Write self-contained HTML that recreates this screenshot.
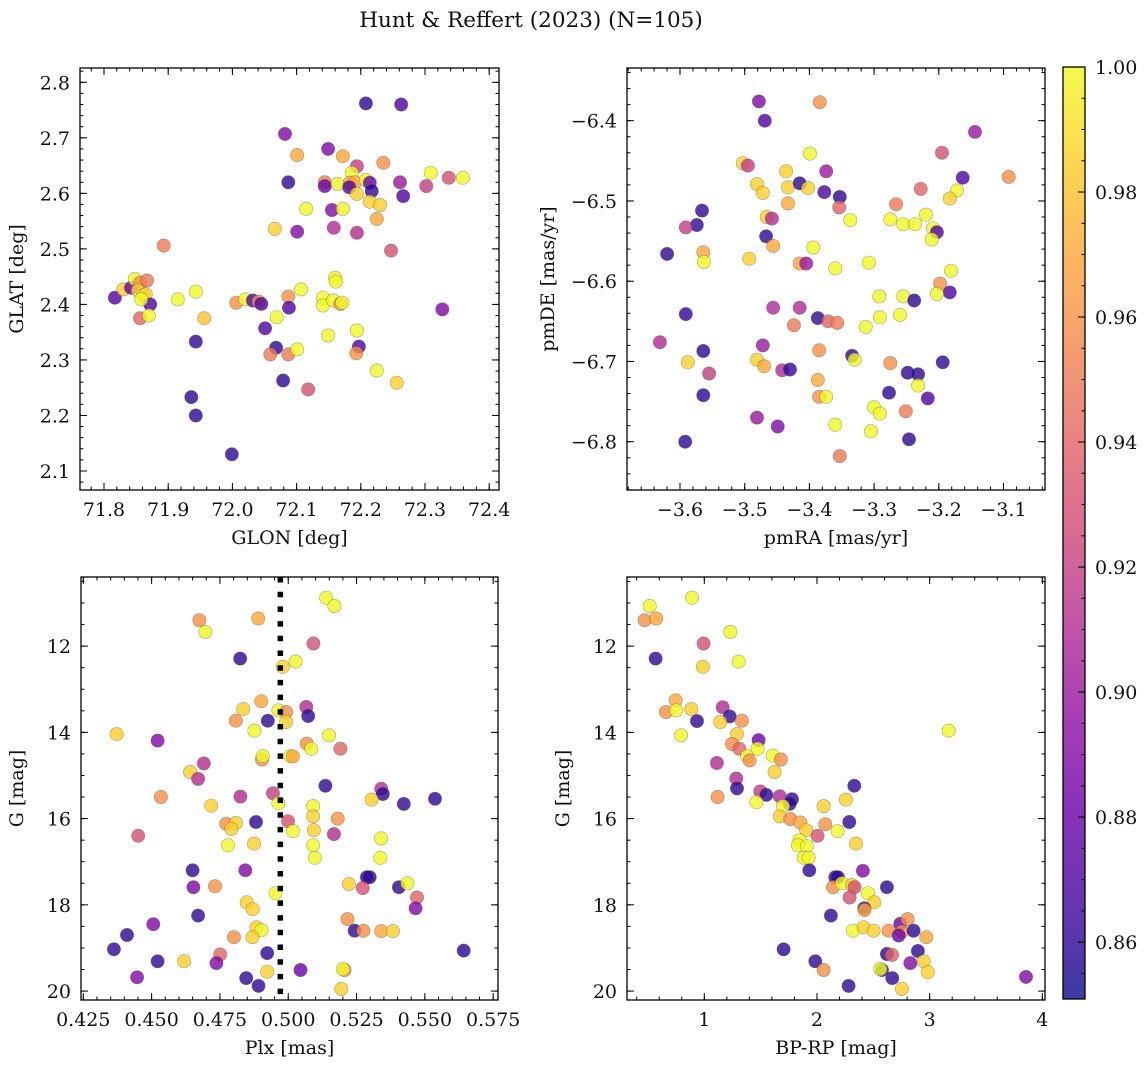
<!DOCTYPE html>
<html><head><meta charset="utf-8">
<style>
html,body{margin:0;padding:0;background:#fff;}
svg{display:block;font-family:"DejaVu Serif","Liberation Serif",serif;}
</style></head>
<body>
<svg id="fig" width="1148" height="1067" viewBox="0 0 1148 1067" xmlns="http://www.w3.org/2000/svg">
<rect width="1148" height="1067" fill="#fff"/>
<text x="531" y="27" font-size="21.5" text-anchor="middle" fill="#111">Hunt &amp; Reffert (2023) (N=105)</text>
<defs>
<linearGradient id="cbgrad" x1="0" y1="1" x2="0" y2="0"></linearGradient>
</defs>
</svg>
<script>
// ---- Panel 1: GLON / GLAT ----
const glon = [72.208,72.263,72.082,72.149,72.101,72.172,72.194,72.235,72.186,72.309,72.337,72.359,72.144,72.144,72.164,72.183,72.191,72.208,72.214,72.261,72.302,72.087,72.182,72.194,72.217,72.266,72.214,72.230,72.115,72.155,72.172,72.225,72.101,72.158,72.194,72.066,72.247,71.893,71.817,71.830,71.842,71.848,71.856,71.867,71.853,71.861,71.865,71.872,71.858,71.856,71.870,71.915,71.943,71.956,71.943,71.936,71.943,71.999,72.006,72.020,72.032,72.041,72.045,72.051,72.068,72.059,72.087,72.079,72.087,72.088,72.069,72.101,72.107,72.118,72.160,72.161,72.141,72.141,72.157,72.168,72.171,72.149,72.194,72.197,72.193,72.225,72.256,72.327];
const glat = [2.762,2.760,2.707,2.680,2.669,2.667,2.649,2.655,2.637,2.637,2.628,2.628,2.620,2.613,2.617,2.619,2.620,2.624,2.619,2.620,2.613,2.620,2.611,2.599,2.604,2.595,2.585,2.579,2.572,2.570,2.572,2.554,2.531,2.538,2.529,2.536,2.497,2.506,2.412,2.427,2.430,2.446,2.439,2.443,2.425,2.416,2.418,2.400,2.409,2.375,2.380,2.409,2.423,2.375,2.333,2.233,2.200,2.130,2.403,2.409,2.407,2.405,2.401,2.357,2.322,2.310,2.310,2.263,2.414,2.394,2.377,2.319,2.427,2.247,2.448,2.441,2.412,2.398,2.407,2.401,2.403,2.344,2.353,2.324,2.312,2.281,2.259,2.391];
const probTL = [0.86,0.87,0.89,0.89,0.97,0.97,0.92,0.96,1.00,1.00,0.93,1.00,0.95,0.88,1.00,0.97,0.97,1.00,0.88,0.90,0.92,0.86,0.87,0.985,0.86,0.87,0.985,0.985,1.00,0.89,1.00,0.97,0.89,0.91,0.91,0.985,0.93,0.95,0.87,0.985,0.88,1.00,0.96,0.95,0.985,1.00,0.985,0.87,1.00,0.94,1.00,1.00,1.00,0.98,0.86,0.86,0.86,0.86,0.96,1.00,0.87,0.96,0.87,0.87,0.86,0.95,0.95,0.86,0.96,0.87,1.00,1.00,1.00,0.93,1.00,1.00,1.00,1.00,1.00,0.96,1.00,1.00,1.00,0.87,0.96,1.00,0.985,0.89];
// ---- Panel 2: pmRA / pmDE ----
const pmra = [-3.478,-3.469,-3.384,-3.144,-3.503,-3.495,-3.195,-3.399,-3.436,-3.374,-3.163,-3.092,-3.481,-3.433,-3.415,-3.402,-3.472,-3.377,-3.353,-3.172,-3.228,-3.183,-3.433,-3.354,-3.266,-3.566,-3.574,-3.466,-3.458,-3.220,-3.337,-3.275,-3.255,-3.237,-3.209,-3.203,-3.211,-3.591,-3.467,-3.456,-3.394,-3.620,-3.564,-3.563,-3.493,-3.415,-3.405,-3.360,-3.308,-3.181,-3.198,-3.183,-3.591,-3.292,-3.255,-3.203,-3.456,-3.415,-3.291,-3.260,-3.238,-3.387,-3.371,-3.424,-3.357,-3.313,-3.334,-3.330,-3.631,-3.564,-3.588,-3.472,-3.481,-3.470,-3.385,-3.275,-3.194,-3.248,-3.232,-3.555,-3.442,-3.430,-3.232,-3.217,-3.277,-3.564,-3.387,-3.385,-3.374,-3.300,-3.291,-3.251,-3.481,-3.360,-3.449,-3.305,-3.592,-3.246,-3.353];
const pmde = [-6.376,-6.400,-6.377,-6.414,-6.453,-6.456,-6.440,-6.441,-6.463,-6.463,-6.471,-6.470,-6.479,-6.483,-6.478,-6.484,-6.490,-6.489,-6.495,-6.487,-6.485,-6.497,-6.503,-6.508,-6.504,-6.512,-6.530,-6.520,-6.522,-6.517,-6.524,-6.523,-6.529,-6.529,-6.534,-6.539,-6.548,-6.533,-6.544,-6.556,-6.558,-6.566,-6.564,-6.576,-6.572,-6.578,-6.578,-6.584,-6.577,-6.587,-6.603,-6.614,-6.641,-6.619,-6.619,-6.616,-6.633,-6.633,-6.645,-6.642,-6.624,-6.646,-6.650,-6.655,-6.652,-6.657,-6.693,-6.698,-6.676,-6.687,-6.701,-6.680,-6.698,-6.706,-6.686,-6.702,-6.701,-6.714,-6.716,-6.715,-6.711,-6.710,-6.730,-6.746,-6.739,-6.742,-6.723,-6.744,-6.744,-6.757,-6.765,-6.762,-6.770,-6.779,-6.781,-6.787,-6.800,-6.797,-6.818];
const probTR = [0.89,0.87,0.96,0.90,0.985,0.92,0.93,1.00,0.985,0.90,0.87,0.96,0.985,0.985,0.86,0.985,0.985,0.87,0.86,1.00,0.94,0.985,0.97,0.94,0.95,0.86,0.86,0.985,0.91,1.00,1.00,1.00,1.00,1.00,1.00,0.87,1.00,0.92,0.86,0.97,1.00,0.86,0.97,1.00,0.985,0.97,0.90,1.00,1.00,1.00,0.96,0.87,0.86,1.00,1.00,1.00,0.91,0.91,1.00,1.00,0.86,0.86,0.94,0.95,0.95,1.00,0.86,1.00,0.91,0.86,0.985,0.90,0.985,0.97,0.96,0.96,0.86,0.86,0.86,0.92,0.91,0.86,1.00,0.87,0.86,0.86,0.97,0.96,1.00,1.00,1.00,0.95,0.90,1.00,0.89,1.00,0.86,0.86,0.95];
// ---- Panel 3: Plx / G ----
const plx = [0.5139,0.5169,0.4675,0.4697,0.4890,0.5092,0.4824,0.5027,0.4980,0.4901,0.4835,0.5066,0.4964,0.4992,0.5073,0.4808,0.4925,0.4992,0.4876,0.4372,0.5149,0.4522,0.5068,0.5084,0.5191,0.4904,0.4907,0.5008,0.5017,0.4691,0.4641,0.4670,0.5136,0.5340,0.5346,0.4534,0.4825,0.4944,0.4964,0.5537,0.5423,0.5305,0.4718,0.5091,0.5091,0.5181,0.4773,0.4809,0.4792,0.4882,0.4999,0.5017,0.5094,0.5167,0.4451,0.5340,0.4780,0.4875,0.5091,0.5097,0.5337,0.4650,0.4843,0.5298,0.5288,0.4653,0.4732,0.5222,0.5273,0.5405,0.5436,0.4953,0.5471,0.5466,0.4848,0.4870,0.4670,0.5217,0.4506,0.4884,0.4902,0.5243,0.5275,0.5340,0.5383,0.4410,0.4801,0.4869,0.4362,0.5642,0.4923,0.4751,0.4522,0.4619,0.4737,0.5045,0.5206,0.5200,0.4923,0.4447,0.4846,0.4891,0.5194];
const gBL = [10.88,11.07,11.40,11.67,11.36,11.94,12.29,12.36,12.48,13.28,13.46,13.41,13.49,13.53,13.62,13.73,13.73,13.76,13.96,14.04,14.07,14.19,14.26,14.38,14.38,14.63,14.55,14.55,14.56,14.72,14.92,15.08,15.24,15.31,15.43,15.50,15.49,15.41,15.64,15.54,15.66,15.56,15.70,15.71,15.95,16.00,16.12,16.10,16.24,16.08,16.06,16.29,16.27,16.36,16.40,16.46,16.62,16.58,16.62,16.91,16.91,17.20,17.20,17.36,17.36,17.59,17.57,17.52,17.61,17.59,17.50,17.73,17.83,18.08,17.94,18.10,18.25,18.33,18.45,18.52,18.59,18.60,18.60,18.61,18.61,18.70,18.75,18.75,19.03,19.06,19.12,19.15,19.31,19.31,19.35,19.51,19.51,19.49,19.55,19.68,19.70,19.88,19.95];
const probBL = [1.00,1.00,0.96,1.00,0.97,0.93,0.86,1.00,0.985,0.97,0.985,0.91,1.00,0.96,0.86,0.96,0.86,0.985,1.00,0.985,1.00,0.89,0.96,1.00,0.94,0.96,1.00,1.00,0.97,0.91,0.985,0.91,0.86,0.91,0.86,0.96,0.91,0.92,1.00,0.86,0.86,0.985,0.985,1.00,0.985,0.96,0.96,0.985,0.985,0.86,0.93,1.00,0.985,0.91,0.93,1.00,1.00,0.985,1.00,1.00,1.00,0.86,0.89,0.86,0.86,0.89,0.96,0.985,0.93,0.86,1.00,1.00,0.94,0.89,0.985,0.985,0.86,0.96,0.89,0.985,1.00,0.86,0.96,0.97,0.985,0.86,0.96,0.985,0.86,0.86,0.86,0.94,0.86,0.985,0.89,0.88,0.96,1.00,0.985,0.89,0.86,0.86,0.985];
const plxLine = [0.4971];
// ---- Panel 4: BP-RP / G ----
const bprp = [0.515,0.891,0.470,0.574,1.231,0.994,0.568,0.988,1.305,0.746,0.660,0.751,0.885,1.163,0.935,1.225,1.334,1.142,0.793,3.169,1.482,1.290,1.246,1.311,1.473,1.379,1.402,1.607,1.680,1.624,1.112,1.284,1.290,1.118,1.497,1.550,1.669,1.778,1.757,1.462,1.698,2.331,2.059,2.257,1.669,1.763,1.852,1.905,2.006,2.074,2.183,2.287,2.346,1.846,1.831,1.911,1.882,1.926,1.932,2.408,2.163,2.186,2.142,2.222,2.311,2.334,2.290,2.621,2.453,2.509,2.420,2.423,2.124,2.320,2.414,2.503,2.636,2.740,2.805,2.754,2.725,2.858,2.970,1.704,2.621,2.666,2.896,1.985,2.059,2.828,2.947,2.577,2.562,2.985,2.669,2.281,2.754,3.855];
const gBR = [11.07,10.88,11.40,11.36,11.67,11.94,12.29,12.48,12.36,13.26,13.53,13.49,13.46,13.42,13.74,13.63,13.73,13.76,14.07,13.96,14.18,14.04,14.27,14.38,14.38,14.55,14.65,14.54,14.63,14.92,14.71,15.07,15.30,15.50,15.37,15.45,15.48,15.55,15.66,15.62,15.71,15.24,15.71,15.56,15.95,16.01,16.09,16.27,16.40,16.13,16.29,16.08,16.58,16.50,16.62,16.64,16.91,16.91,17.20,17.21,17.36,17.36,17.59,17.50,17.54,17.59,17.83,17.59,17.73,17.94,18.08,18.12,18.25,18.60,18.52,18.60,18.60,18.44,18.33,18.62,18.71,18.60,18.75,19.03,19.14,19.16,19.07,19.31,19.51,19.35,19.31,19.51,19.49,19.56,19.70,19.88,19.95,19.67];
const probBR = [1.00,1.00,0.96,0.97,1.00,0.93,0.86,0.985,1.00,0.97,0.96,1.00,0.985,0.91,0.86,0.86,0.96,0.985,1.00,1.00,0.88,0.985,0.96,0.94,1.00,1.00,0.96,1.00,0.96,0.985,0.91,0.91,0.86,0.96,0.92,0.86,0.91,0.86,0.86,1.00,1.00,0.86,0.985,0.985,0.985,0.96,0.97,0.985,0.93,0.96,1.00,0.86,0.985,1.00,1.00,1.00,1.00,1.00,0.86,0.89,0.86,0.86,0.96,1.00,0.985,0.93,0.93,0.86,1.00,0.985,0.86,0.97,0.86,1.00,0.985,0.985,0.96,0.88,0.96,0.96,0.88,0.86,0.97,0.86,0.86,0.94,0.86,0.86,0.96,0.89,0.985,0.86,1.00,0.985,0.86,0.86,0.985,0.89];
// ---- Colorbar ticks ----
const cbTicks = [0.86,0.88,0.90,0.92,0.94,0.96,0.98,1.00];
const cbLabels = ["0.86","0.88","0.90","0.92","0.94","0.96","0.98","1.00"];

const VMIN = 0.8509, VMAX = 1.0;
const FS = 19;
const NS = "http://www.w3.org/2000/svg";
const svg = document.getElementById('fig');
const plasma = [[13,8,135],[65,4,157],[106,0,168],[143,13,164],[177,42,144],[204,71,120],[225,100,98],[242,132,75],[252,166,54],[252,206,37],[240,249,33]];
function cmap(v){
  let t = Math.max(0, Math.min(1, (v - VMIN) / (VMAX - VMIN))) * 10;
  const i = Math.min(9, Math.floor(t)), f = t - i;
  const a = plasma[i], b = plasma[i + 1];
  return 'rgb(' + [0,1,2].map(k => Math.round(a[k] + (b[k] - a[k]) * f)).join(',') + ')';
}
function mk(tag, attrs, parent){
  const e = document.createElementNS(NS, tag);
  for (const k in attrs) e.setAttribute(k, attrs[k]);
  (parent || svg).appendChild(e);
  return e;
}
function range(a, b, s){ const r = []; for (let v = a; v <= b + s * 1e-6; v += s) r.push(+v.toFixed(6)); return r; }

function panel(cfg){
  const g = mk('g', {});
  
  
  const sx = v => cfg.x0 + (v - cfg.xmin) / (cfg.xmax - cfg.xmin) * (cfg.x1 - cfg.x0);
  const sy = cfg.yinv
    ? v => cfg.y0 + (v - cfg.ymin) / (cfg.ymax - cfg.ymin) * (cfg.y1 - cfg.y0)
    : v => cfg.y1 - (v - cfg.ymin) / (cfg.ymax - cfg.ymin) * (cfg.y1 - cfg.y0);
  const clip = 'clip-' + cfg.name;
  const cp = mk('clipPath', {id: clip}, g);
  mk('rect', {x: cfg.x0, y: cfg.y0, width: cfg.x1 - cfg.x0, height: cfg.y1 - cfg.y0}, cp);
  const pts = mk('g', {'clip-path': 'url(#' + clip + ')'}, g);
  
  
  for (let i = 0; i < cfg.xs.length; i++){
    const c = mk('circle', {cx: sx(cfg.xs[i]).toFixed(1), cy: sy(cfg.ys[i]).toFixed(1), r: 6.7, fill: cmap(cfg.ps[i]), 'fill-opacity': 0.8, stroke: '#555', 'stroke-opacity': 0.5, 'stroke-width': 0.6}, pts);
    
    
  }
  if (cfg.vline){
    for (const v of cfg.vline){
      const l = mk('line', {x1: sx(v), x2: sx(v), y1: cfg.y0, y2: cfg.y1, stroke: '#000', 'stroke-width': 5.5, 'stroke-dasharray': '5.5 9.2'}, g);
      
      
    }
  }
  const tk = mk('g', {stroke: '#000', 'stroke-width': 1}, g);
  
  
  const inX = v => v >= Math.min(cfg.xmin, cfg.xmax) - 1e-9 && v <= Math.max(cfg.xmin, cfg.xmax) + 1e-9;
  const inY = v => v >= Math.min(cfg.ymin, cfg.ymax) - 1e-9 && v <= Math.max(cfg.ymin, cfg.ymax) + 1e-9;
  cfg.xminor.filter(inX).forEach(v => { const x = sx(v);
    mk('line', {x1: x, x2: x, y1: cfg.y1, y2: cfg.y1 - 3.5}, tk); mk('line', {x1: x, x2: x, y1: cfg.y0, y2: cfg.y0 + 3.5}, tk); });
  cfg.yminor.filter(inY).forEach(v => { const y = sy(v);
    mk('line', {x1: cfg.x0, x2: cfg.x0 + 3.5, y1: y, y2: y}, tk); mk('line', {x1: cfg.x1, x2: cfg.x1 - 3.5, y1: y, y2: y}, tk); });
  cfg.xmajor.filter(inX).forEach(v => { const x = sx(v);
    mk('line', {x1: x, x2: x, y1: cfg.y1, y2: cfg.y1 - 7}, tk); mk('line', {x1: x, x2: x, y1: cfg.y0, y2: cfg.y0 + 7}, tk);
    const t = mk('text', {x: x, y: cfg.y1 + 26, 'font-size': FS, 'text-anchor': 'middle', fill: '#111', stroke: 'none'}, g);
    t.textContent = cfg.xlabels[cfg.xmajor.indexOf(v)];
    
    
  });
  cfg.ymajor.filter(inY).forEach(v => { const y = sy(v);
    mk('line', {x1: cfg.x0, x2: cfg.x0 + 7, y1: y, y2: y}, tk); mk('line', {x1: cfg.x1, x2: cfg.x1 - 7, y1: y, y2: y}, tk);
    const t = mk('text', {x: cfg.x0 - 10, y: y + 7, 'font-size': FS, 'text-anchor': 'end', fill: '#111', stroke: 'none'}, g);
    t.textContent = cfg.ylabels[cfg.ymajor.indexOf(v)];
    
    
  });
  const fr = mk('rect', {x: cfg.x0, y: cfg.y0, width: cfg.x1 - cfg.x0, height: cfg.y1 - cfg.y0, fill: 'none', stroke: '#000', 'stroke-width': 1.3}, g);
  
  
  const xl = mk('text', {x: (cfg.x0 + cfg.x1) / 2, y: cfg.y1 + 54, 'font-size': FS, 'text-anchor': 'middle', fill: '#111'}, g);
  xl.textContent = cfg.xtitle;
  
  
  const yl = mk('text', {x: 0, y: 0, 'font-size': FS, 'text-anchor': 'middle', fill: '#111', transform: 'translate(' + (cfg.ytx) + ',' + ((cfg.y0 + cfg.y1) / 2) + ') rotate(-90)'}, g);
  yl.textContent = cfg.ytitle;
  
  
}
const fmt = (arr, d) => arr.map(v => (v < 0 ? '\u2212' : '') + Math.abs(v).toFixed(d));

const tlx = [71.8,71.9,72.0,72.1,72.2,72.3,72.4], tly = [2.1,2.2,2.3,2.4,2.5,2.6,2.7,2.8];
panel({name: 'panel-glon-glat', x0: 80, x1: 499, y0: 68, y1: 490, xmin: 71.8 - 24/642, xmax: 71.8 + 395/642, ymin: 2.1 - 19/555, ymax: 2.8 + 14.3/555,
  xs: glon, ys: glat, ps: probTL, xmajor: tlx, xlabels: fmt(tlx, 1), ymajor: tly, ylabels: fmt(tly, 1),
  xminor: range(71.76, 72.42, 0.02), yminor: range(2.06, 2.84, 0.02), xtitle: 'GLON [deg]', ytitle: 'GLAT [deg]', ytx: 23});
const trx = [-3.6,-3.5,-3.4,-3.3,-3.2,-3.1], tryy = [-6.8,-6.7,-6.6,-6.5,-6.4];
panel({name: 'panel-pmra-pmde', x0: 627, x1: 1045, y0: 68, y1: 490, xmin: -3.6 - 53/647, xmax: -3.6 + 365/647, ymin: -6.4 - 369.3/802.5, ymax: -6.4 + 52.7/802.5,
  xs: pmra, ys: pmde, ps: probTR, xmajor: trx, xlabels: fmt(trx, 1), ymajor: tryy, ylabels: fmt(tryy, 1),
  xminor: range(-3.68, -3.02, 0.02), yminor: range(-6.86, -6.32, 0.02), xtitle: 'pmRA [mas/yr]', ytitle: 'pmDE [mas/yr]', ytx: 554});
const blx = [0.425,0.45,0.475,0.5,0.525,0.55,0.575], gy = [12,14,16,18,20];
panel({name: 'panel-plx-g', x0: 81, x1: 498, y0: 577, y1: 1000, xmin: 0.425 - 2.3/2728, xmax: 0.425 + 414/2728, ymin: 12 - 69/43.05, ymax: 12 + 353.3/43.05, yinv: true,
  xs: plx, ys: gBL, ps: probBL, xmajor: blx, xlabels: fmt(blx, 3), ymajor: gy, ylabels: fmt(gy, 0), vline: plxLine,
  xminor: range(0.425, 0.575, 0.005), yminor: range(10.5, 20, 0.5), xtitle: 'Plx [mas]', ytitle: 'G [mag]', ytx: 23});
const brx = [1,2,3,4];
panel({name: 'panel-bprp-g', x0: 627, x1: 1045, y0: 577, y1: 1000, xmin: 1 - 77.3/112.67, xmax: 1 + 340.7/112.67, ymin: 12 - 69/43.05, ymax: 12 + 353.3/43.05, yinv: true,
  xs: bprp, ys: gBR, ps: probBR, xmajor: brx, xlabels: fmt(brx, 0), ymajor: gy, ylabels: fmt(gy, 0),
  xminor: range(0.4, 4.0, 0.2), yminor: range(10.5, 20, 0.5), xtitle: 'BP-RP [mag]', ytitle: 'G [mag]', ytx: 569});

(function(){
  const cb = mk('g', {});
  
  
  const x0 = 1063, x1 = 1085, y0 = 67, y1 = 999;
  const sy = v => y1 - (v - VMIN) / (VMAX - VMIN) * (y1 - y0);
  const grad = document.getElementById('cbgrad');
  for (let i = 0; i <= 20; i++){
    const v = VMIN + (VMAX - VMIN) * i / 20;
    const s = document.createElementNS(NS, 'stop');
    s.setAttribute('offset', (i / 20));
    s.setAttribute('stop-color', cmap(v));
    grad.appendChild(s);
  }
  mk('rect', {x: x0, y: y0, width: x1 - x0, height: y1 - y0, fill: 'url(#cbgrad)', 'fill-opacity': 0.8}, cb);
  range(0.855, 1.0, 0.005).forEach(v => { const y = sy(v); mk('line', {x1: x1, x2: x1 - 3.5, y1: y, y2: y, stroke: '#000'}, cb); });
  cbTicks.forEach((v, i) => { const y = sy(v);
    mk('line', {x1: x1, x2: x1 - 7, y1: y, y2: y, stroke: '#000'}, cb);
    const t = mk('text', {x: x1 + 10, y: y + 7, 'font-size': FS, fill: '#111'}, cb);
    t.textContent = cbLabels[i];
    
    
  });
  mk('rect', {x: x0, y: y0, width: x1 - x0, height: y1 - y0, fill: 'none', stroke: '#000', 'stroke-width': 1.3}, cb);
})();
</script>
</body></html>
